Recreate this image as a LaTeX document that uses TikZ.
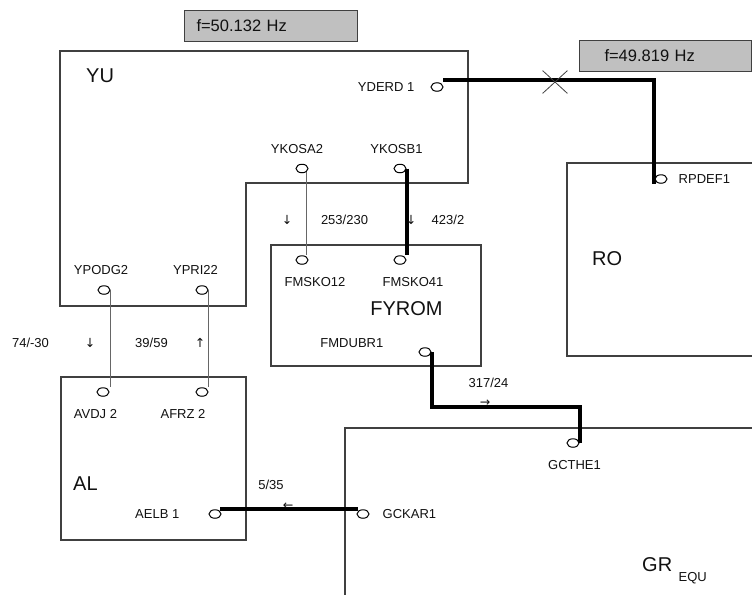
\documentclass[tikz,border=0pt]{standalone}
\usepackage{fontspec}
\setmainfont{Liberation Sans}
\newfontfamily\arrowfont{DejaVu Sans}
\usetikzlibrary{positioning, shapes.geometric, shapes.misc}
\definecolor{clrframe}{HTML}{404040}
\definecolor{clrlink}{HTML}{666666}
\definecolor{clrtie}{HTML}{000000}
\definecolor{clrfreq}{HTML}{C0C0C0}
\definecolor{clrtext}{HTML}{111111}

\begin{document}
\begin{tikzpicture}[
    x=1pt, y=-1pt,
    every node/.style={text=clrtext},
    region/.style={draw=clrframe, line width=1.2pt},
    term/.style={draw=black, ellipse, minimum width=12pt, minimum height=8.5pt,
                 inner sep=0, line width=1pt},
    link/.style={draw=clrlink, line width=1.3pt},
    tieline/.style={draw=clrtie, line width=4pt},
    tag/.style={font=\fontsize{13}{15}\selectfont, inner sep=0,
                text height=9.3pt, text depth=0pt},
    area/.style={font=\fontsize{20}{24}\selectfont, inner sep=0,
                 text height=14.3pt, text depth=0pt},
    dir/.style={font=\arrowfont\fontsize{12.5}{14}\selectfont, inner sep=0},
    freqbox/.style={draw=clrframe, fill=clrfreq, line width=1pt, anchor=north west,
                    font=\fontsize{16.5}{19}\selectfont, minimum height=31pt, align=left},
]
\useasboundingbox (0,0) rectangle (752,595);
% control areas
\draw[region] (60,51) -- (468,51) -- (468,183) -- (246,183) -- (246,306) -- (60,306) -- cycle;
\draw[region] (271,245) rectangle (481,366);
\draw[region] (61,377) rectangle (246,540);
\draw[region] (752,163) -- (567,163) -- (567,356) -- (752,356);
\draw[region] (752,428) -- (345,428) -- (345,595);
\node[area, anchor=west] (yu) at (86,75) {YU};
\node[area] (fyrom) at (406.5,308) {FYROM};
\node[area, anchor=west] (al) at (73,483) {AL};
\node[area, anchor=west] (ro) at (592,258) {RO};
\node[area, anchor=west] (gr) at (642,564) {GR};
\node[tag, right=6pt of gr, yshift=-13pt] (gr_sub) {EQU};
% frequencies
\node[freqbox, minimum width=173pt, text width=149pt, inner xsep=12pt] (f_yu) at (184,10) {f=50.132 Hz};
\node[freqbox, minimum width=172pt, text width=122pt, inner xsep=25pt] (f_ro) at (579,40) {f=49.819 Hz};
% terminals
\node[term] (yderd) at (437,87) {};
\node[term] (rpdef) at (661,179) {};
\node[term] (ykosa) at (302,168.5) {};
\node[term] (ykosb) at (400,168.5) {};
\node[term] (fmsko12) at (302,260) {};
\node[term] (fmsko41) at (400,260) {};
\node[term] (fmdubr) at (425,352) {};
\node[term] (ypodg) at (104,290) {};
\node[term] (ypri) at (202,290) {};
\node[term] (avdj) at (103,392) {};
\node[term] (afrz) at (202,392) {};
\node[term] (aelb) at (215,514) {};
\node[term] (gckar) at (363,514) {};
\node[term] (gcthe) at (573,443) {};
\node[tag, left=16pt of yderd] (yderd_lbl) {YDERD 1};
\node[tag, right=11pt of rpdef] (rpdef_lbl) {RPDEF1};
\node[tag, above=10.5pt of ykosa, xshift=-5pt] (ykosa_lbl) {YKOSA2};
\node[tag, above=10.5pt of ykosb, xshift=-3.5pt] (ykosb_lbl) {YKOSB1};
\node[tag, below=12pt of fmsko12, xshift=13pt] (fmsko12_lbl) {FMSKO12};
\node[tag, below=12pt of fmsko41, xshift=13pt] (fmsko41_lbl) {FMSKO41};
\node[tag, left=35pt of fmdubr, yshift=9pt] (fmdubr_lbl) {FMDUBR1};
\node[tag, above=11pt of ypodg, xshift=-3pt] (ypodg_lbl) {YPODG2};
\node[tag, above=11pt of ypri, xshift=-6.5pt] (ypri_lbl) {YPRI22};
\node[tag, below=12pt of avdj, xshift=-7.5pt] (avdj_lbl) {AVDJ 2};
\node[tag, below=12pt of afrz, xshift=-19pt] (afrz_lbl) {AFRZ 2};
\node[tag, left=29pt of aelb] (aelb_lbl) {AELB 1};
\node[tag, right=13pt of gckar] (gckar_lbl) {GCKAR1};
\node[tag, below=12pt of gcthe, xshift=1.5pt] (gcthe_lbl) {GCTHE1};
% tie lines
\draw[tieline] ([xshift=6pt,yshift=2pt]yderd.north) -| ([xshift=-1pt,yshift=-5pt]rpdef.west);
\node[draw=clrframe, cross out, minimum width=24pt, minimum height=22pt, inner sep=0, line width=0.8pt] (brk) at (555,82) {};
\draw[link] (ykosa.south east) -- (ykosa.south east |- fmsko12.north);
\draw[tieline] (ykosb.east) -- (ykosb.east |- fmsko41.north);
\draw[link] (ypodg.east) -- (ypodg.east |- avdj.north);
\draw[link] (ypri.east) -- (ypri.east |- afrz.north);
\draw[tieline] (fmdubr.east) -- ++(0,55) -| (gcthe.east);
\draw[tieline] ([yshift=1.5pt]gckar.north west) -- ([yshift=1.5pt]gckar.north west -| aelb.north east);
% flows
\node[tag] (p_ykosa) at (344.5,220) {253/230};
\node[dir] (d_ykosa) at (287,220) {↓};
\node[tag] (p_ykosb) at (448,220) {423/2};
\node[dir] (d_ykosb) at (411,220) {↓};
\node[tag] (p_ypodg) at (30.5,343) {74/-30};
\node[dir] (d_ypodg) at (90,343) {↓};
\node[tag] (p_ypri) at (151.5,343) {39/59};
\node[dir] (d_ypri) at (200,343) {↑};
\node[tag] (p_fmdubr) at (488.5,383) {317/24};
\node[dir] (d_fmdubr) at (485,403) {→};
\node[tag] (p_gckar) at (271,485) {5/35};
\node[dir] (d_gckar) at (288,506) {←};
\end{tikzpicture}
\end{document}
